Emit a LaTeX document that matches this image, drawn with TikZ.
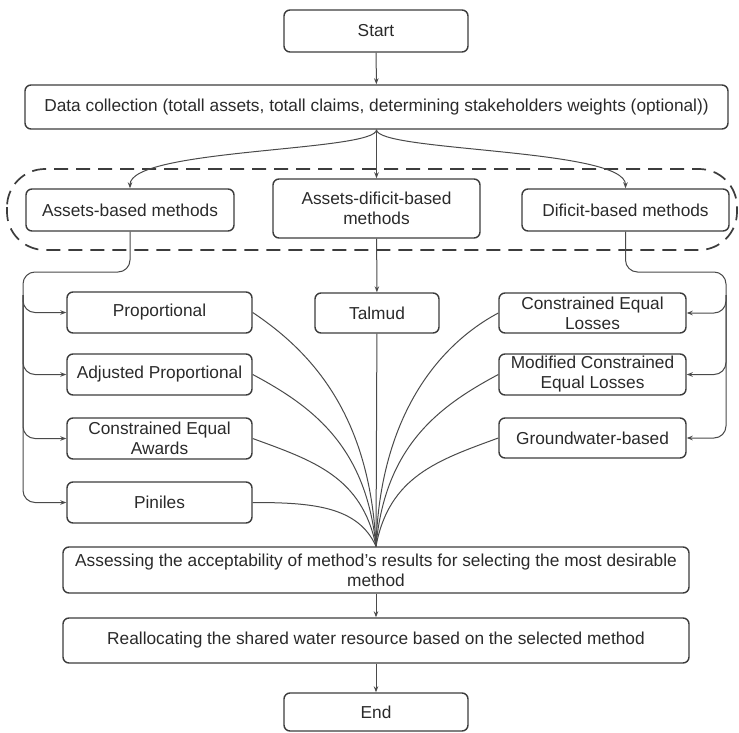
\documentclass[tikz,border=0pt]{standalone}
\usepackage{fontspec}
\setmainfont{Liberation Sans}
\usetikzlibrary{arrows.meta}

\definecolor{boxgray}{HTML}{3C3C3C}
\definecolor{textgray}{HTML}{2A2A2A}
\definecolor{linegray}{HTML}{4A4A4A}

\tikzset{
  box/.style={draw=boxgray, line width=1.4pt, rounded corners=6pt, text=textgray,
    font=\fontsize{17.3}{20}\selectfont, align=center, inner sep=0pt},
  conn/.style={draw=linegray, line width=1pt, rounded corners=12pt,
    -{Stealth[length=6pt,width=4.5pt]}},
  fanline/.style={draw=linegray, line width=1pt},
  group/.style={draw=boxgray, line width=1.7pt, dash pattern=on 14pt off 8pt, rounded corners=38pt}
}

\begin{document}
\begin{tikzpicture}[x=1pt,y=-1pt]
\useasboundingbox (0,0) rectangle (739,733);

% grouping of the three families
\draw[group] (7,169) rectangle (737,250);

\node[box, minimum width=184pt, minimum height=42pt] (start) at (376,31) {Start};
\node[box, minimum width=703pt, minimum height=44pt] (data) at (376.5,107)
  {Data collection (totall assets, totall claims, determining stakeholders weights (optional))};

\node[box, minimum width=208pt, minimum height=42pt] (ab) at (130,210) {Assets-based methods};
\node[box, minimum width=207pt, minimum height=59pt] (adb) at (376.5,208.5) {Assets-dificit-based\\methods};
\node[box, minimum width=207pt, minimum height=42pt] (db) at (625.5,210) {Dificit-based methods};

% methods
\node[box, minimum width=185pt, minimum height=41pt] (prop) at (159.5,312.5) {Proportional};
\node[box, minimum width=185pt, minimum height=41pt] (adj) at (159.5,374.5) {Adjusted Proportional};
\node[box, minimum width=185pt, minimum height=41pt] (cea) at (159.5,438.5) {Constrained Equal\\Awards};
\node[box, minimum width=185pt, minimum height=41pt] (pin) at (159.5,502.5) {Piniles};
\node[box, minimum width=124pt, minimum height=40pt] (tal) at (377,313) {Talmud};
\node[box, minimum width=187pt, minimum height=40pt] (cel) at (592.5,313) {Constrained Equal\\Losses};
\node[box, minimum width=187pt, minimum height=41pt] (mcel) at (592.5,374.5) {Modified Constrained\\Equal Losses};
\node[box, minimum width=187pt, minimum height=40pt] (gw) at (592.5,438) {Groundwater-based};

\node[box, minimum width=626pt, minimum height=46pt] (assess) at (376,570)
  {Assessing the acceptability of method's results for selecting the most desirable\\method};
\node[box, minimum width=626pt, minimum height=45pt] (realloc) at (376,640.5)
  {Reallocating the shared water resource based on the selected method};
\node[box, minimum width=184pt, minimum height=38pt] (end) at (376,712) {End};

\coordinate (lbus) at (23,272);
\coordinate (lb) at (23,295);
\coordinate (rbus) at (726,272);
\coordinate (rb) at (726,295);

% top part
\draw[conn] (start) -- (data);
\draw[conn] (data.south) .. controls +(0,22) and +(0,-40) .. (ab.north);
\draw[conn] (data) -- (adb);
\draw[conn] (data.south) .. controls +(0,22) and +(0,-40) .. (db.north);
\draw[conn] (adb) -- (tal);

% left branches
\draw[conn] (ab.south) |- (lbus) |- (prop.west);
\draw[conn] (lb) |- (adj.west);
\draw[conn] (lb) |- (cea.west);
\draw[conn] (lb) |- (pin.west);

% right branches
\draw[conn] (db.south) |- (rbus) |- (cel.east);
\draw[conn] (rb) |- (mcel.east);
\draw[conn] (rb) |- (gw.east);

% fan into the assessment
\draw[fanline] (tal) -- (assess.north);
\draw[fanline] (prop.east) .. controls +(60,40) and +(-6,-130) .. (assess.north);
\draw[fanline] (adj.east) .. controls +(60,32) and +(-10,-100) .. (assess.north);
\draw[fanline] (cea.east) .. controls +(60,22) and +(-14,-70) .. (assess.north);
\draw[fanline] (pin.east) .. controls +(60,0) and +(-18,-40) .. (assess.north);
\draw[fanline] (cel.west) .. controls +(-60,32) and +(4,-130) .. (assess.north);
\draw[fanline] (mcel.west) .. controls +(-60,32) and +(9,-100) .. (assess.north);
\draw[fanline] (gw.west) .. controls +(-60,22) and +(13,-70) .. (assess.north);

% bottom part
\draw[conn] (assess) -- (realloc);
\draw[conn] (realloc) -- (end);
\end{tikzpicture}
\end{document}
